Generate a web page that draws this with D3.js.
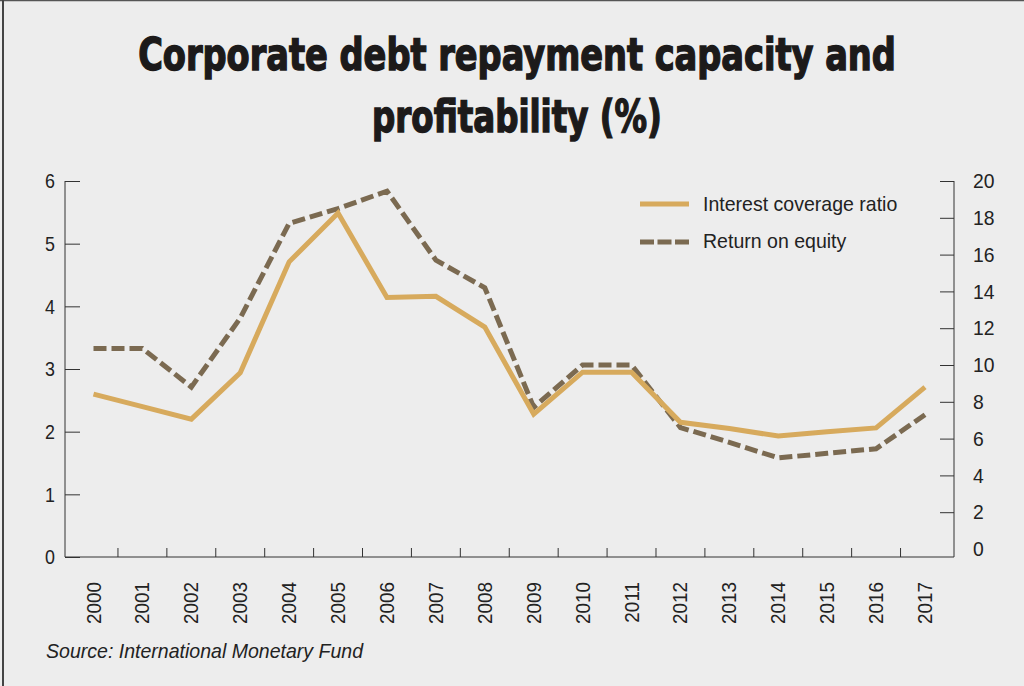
<!DOCTYPE html>
<html>
<head>
<meta charset="utf-8">
<script src="https://cdn.jsdelivr.net/npm/d3@7"></script>
<style>
  html, body { margin: 0; padding: 0; background: #ededed; }
  svg { display: block; }
  .tick text, .lbl { font-family: "Liberation Sans", Arial, sans-serif; fill: #222; }
</style>
</head>
<body>
<div id="chart"></div>
<script>
// values
const years = ["2000","2001","2002","2003","2004","2005","2006","2007","2008",
  "2009","2010","2011","2012","2013","2014","2015","2016","2017"];
const interestCoverage = [2.6, 2.4, 2.2, 2.94, 4.71, 5.49, 4.14, 4.16, 3.67,
  2.28, 2.95, 2.95, 2.15, 2.05, 1.93, 2.0, 2.06, 2.71];
const returnOnEquity = [10.9, 10.9, 8.8, 12.55, 17.7, 18.5, 19.45, 15.7, 14.2,
  7.7, 10.0, 10.0, 6.6, 5.8, 4.95, 5.2, 5.45, 7.3];
const leftTicks = [0, 1, 2, 3, 4, 5, 6];
const rightTicks = [0, 2, 4, 6, 8, 10, 12, 14, 16, 18, 20];
const titleLines = ["Corporate debt repayment capacity and", "profitability (%)"];
const legendNames = ["Interest coverage ratio", "Return on equity"];

const W = 1024, H = 686;
const plotL = 65, plotR = 954, plotT = 181, plotB = 557;
const gold = "#d7aa5d", brown = "#7b6a51";

// the original uses a condensed face; squeeze the regular one
function narrow(sel, k) {
  sel.each(function() {
    const w = this.getComputedTextLength();
    d3.select(this).attr("textLength", w * k).attr("lengthAdjust", "spacingAndGlyphs");
  });
}

const svg = d3.select("#chart").append("svg")
  .attr("width", W)
  .attr("height", H);

// frame edges (top and left only, as in the picture)
svg.append("line").attr("x1", 0).attr("x2", W).attr("y1", 0.5).attr("y2", 0.5)
  .attr("stroke", "#555").attr("stroke-width", 1.5);
svg.append("line").attr("x1", 3).attr("x2", 3).attr("y1", 0).attr("y2", H)
  .attr("stroke", "#444").attr("stroke-width", 2);

// title, squeezed horizontally to the width of the original lines
const titleWidths = [758, 290];
svg.selectAll(".title")
  .data(titleLines)
  .enter()
  .append("text")
  .attr("class", "title")
  .attr("text-anchor", "middle")
  .style("font-family", "'DejaVu Sans Condensed', 'DejaVu Sans', sans-serif")
  .style("font-weight", "bold")
  .style("font-size", "44px")
  .style("fill", "#1c1a1a")
  .style("stroke", "#1c1a1a")
  .style("stroke-width", 1.4)
  .text(d => d)
  .each(function(d, i) {
    const k = titleWidths[i] / this.getComputedTextLength();
    d3.select(this).attr("transform", `translate(517,${70 + i * 62}) scale(${k},1)`);
  });

const x = d3.scalePoint()
  .domain(years)
  .range([93.5, 925]);

const y = d3.scaleLinear()
  .domain([0, 6])
  .range([plotB, plotT]);

// right axis is drawn a little short of the baseline in the original
const y2 = d3.scaleLinear()
  .domain([0, 20])
  .range([549, plotT]);

// left axis
const gl = svg.append("g")
  .attr("transform", `translate(${plotL},0)`)
  .call(d3.axisLeft(y).tickValues(leftTicks).tickFormat(d3.format("d"))
    .tickSize(-15).tickSizeOuter(0).tickPadding(10));
gl.select(".domain").remove();
gl.selectAll(".tick line").attr("stroke", "#333");
gl.selectAll(".tick text").style("font-size", "21px").call(narrow, 0.85);

// right axis
const gr = svg.append("g")
  .attr("transform", `translate(${plotR},0)`)
  .call(d3.axisRight(y2).tickValues(rightTicks).tickFormat(d3.format("d"))
    .tickSize(-14).tickSizeOuter(0).tickPadding(19));
gr.select(".domain").remove();
gr.selectAll(".tick line").attr("stroke", "#333").filter(d => d === 0).remove();
gr.selectAll(".tick text").style("font-size", "21px").call(narrow, 0.92);

// axis frame lines
svg.append("line").attr("x1", plotL).attr("x2", plotL).attr("y1", plotT).attr("y2", plotB)
  .attr("stroke", "#333").attr("stroke-width", 1);
svg.append("line").attr("x1", plotR).attr("x2", plotR).attr("y1", plotT).attr("y2", plotB)
  .attr("stroke", "#333").attr("stroke-width", 1);
svg.append("line").attr("x1", plotL).attr("x2", plotR).attr("y1", plotB).attr("y2", plotB)
  .attr("stroke", "#333").attr("stroke-width", 1);

// x ticks sit between the years
const mids = years.slice(0, -1).map((d, i) => (x(d) + x(years[i + 1])) / 2);
svg.selectAll(".xtick")
  .data(mids)
  .enter()
  .append("line")
  .attr("x1", d => d).attr("x2", d => d)
  .attr("y1", plotB).attr("y2", plotB - 9)
  .attr("stroke", "#333");

svg.selectAll(".xlabel")
  .data(years)
  .enter()
  .append("text")
  .attr("class", "lbl")
  .attr("transform", d => `translate(${x(d) + 7},582) rotate(-90)`)
  .attr("text-anchor", "end")
  .style("font-size", "21px")
  .text(d => d)
  .call(narrow, 0.9);

// lines
const lineIcr = d3.line()
  .x((d, i) => x(years[i]))
  .y(d => y(d));
const lineRoe = d3.line()
  .x((d, i) => x(years[i]))
  .y(d => y2(d));

svg.append("path")
  .datum(returnOnEquity)
  .attr("d", lineRoe)
  .attr("fill", "none")
  .attr("stroke", brown)
  .attr("stroke-width", 5)
  .attr("stroke-dasharray", "13,5");

svg.append("path")
  .datum(interestCoverage)
  .attr("d", lineIcr)
  .attr("fill", "none")
  .attr("stroke", gold)
  .attr("stroke-width", 5)
  .attr("stroke-linejoin", "miter");

// legend
const legend = svg.append("g");
legend.selectAll("line")
  .data(legendNames)
  .enter()
  .append("line")
  .attr("x1", 640).attr("x2", 689)
  .attr("y1", (d, i) => 204 + i * 38)
  .attr("y2", (d, i) => 204 + i * 38)
  .attr("stroke", (d, i) => i === 0 ? gold : brown)
  .attr("stroke-width", 5)
  .attr("stroke-dasharray", (d, i) => i === 0 ? null : "14,3.5");
legend.selectAll("text")
  .data(legendNames)
  .enter()
  .append("text")
  .attr("class", "lbl")
  .attr("x", 703)
  .attr("y", (d, i) => 211 + i * 37)
  .style("font-size", "21px")
  .text(d => d)
  .call(narrow, 0.93);

// source
svg.append("text")
  .attr("class", "lbl")
  .attr("x", 46)
  .attr("y", 658)
  .style("font-size", "21px")
  .style("font-style", "italic")
  .text("Source: International Monetary Fund")
  .call(narrow, 0.93);
</script>
</body>
</html>
